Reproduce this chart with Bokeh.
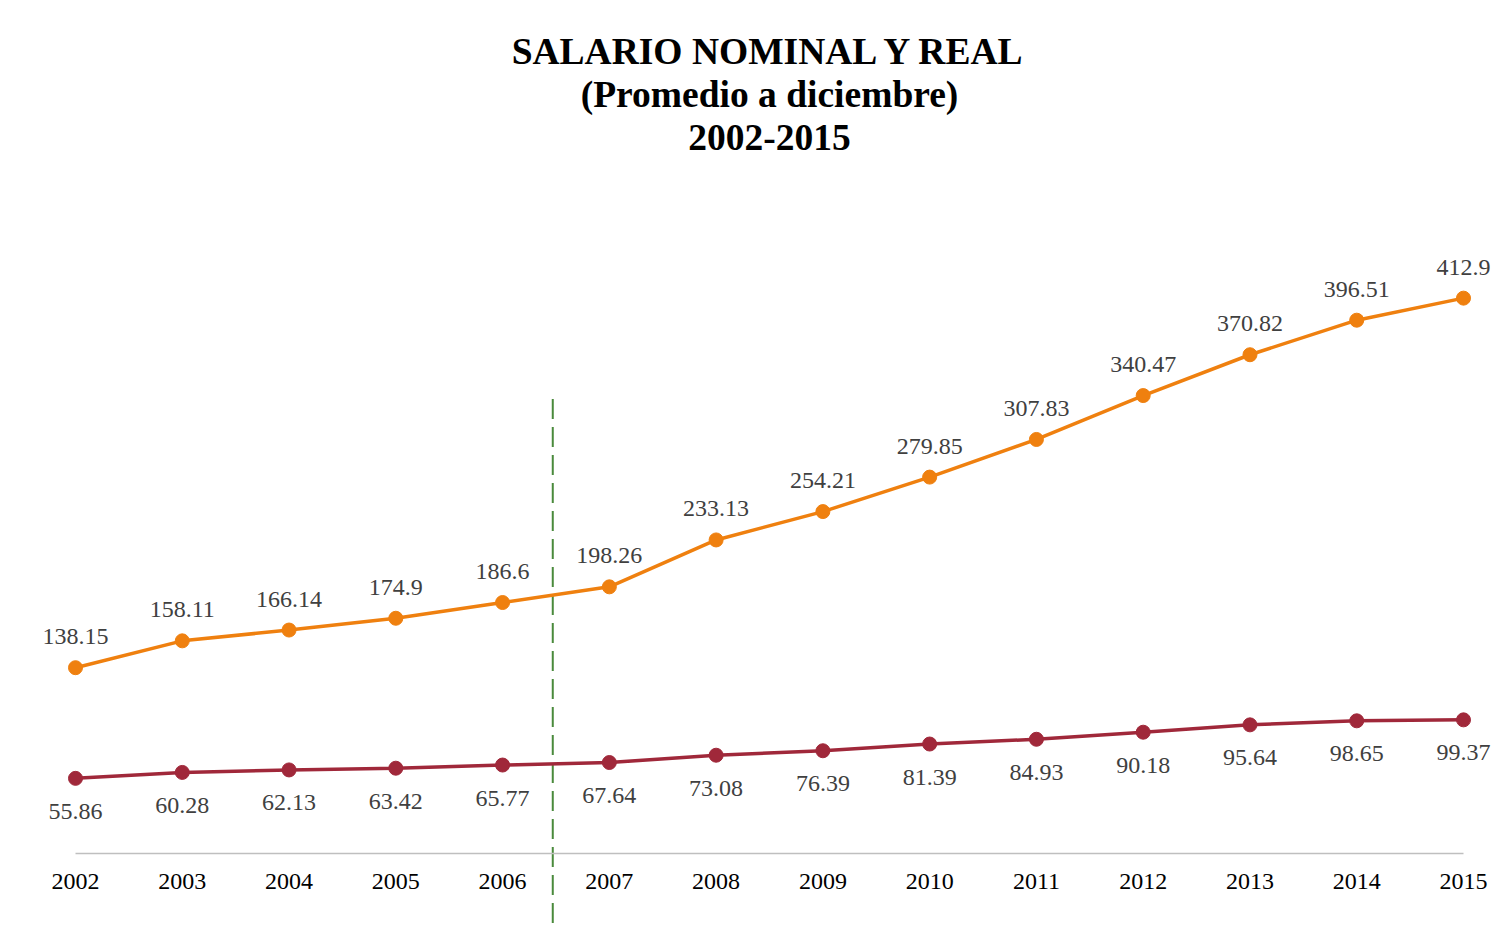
from bokeh.plotting import figure
from bokeh.models import Label, FixedTicker, Range1d, LinearAxis
from bokeh.embed import file_html
from bokeh.resources import INLINE
from bokeh.core.properties import value

# ---- data ----
years = [2002, 2003, 2004, 2005, 2006, 2007, 2008, 2009, 2010, 2011, 2012, 2013, 2014, 2015]
nominal = [138.15, 158.11, 166.14, 174.9, 186.6, 198.26, 233.13, 254.21, 279.85,
           307.83, 340.47, 370.82, 396.51, 412.9]
real = [55.86, 60.28, 62.13, 63.42, 65.77, 67.64, 73.08, 76.39, 81.39,
        84.93, 90.18, 95.64, 98.65, 99.37]
year_labels = [str(y) for y in years]
title_lines = ["SALARIO NOMINAL Y REAL", "(Promedio a diciembre)", "2002-2015"]
divider_year = 2006.47
divider_top = 338.0

# ---- layout constants ----
W, H = 1505, 925
PX_PER_YEAR = 106.77
PX_PER_UNIT = 1.345
ZERO_Y = 853.0   # canvas px (from top) of value 0
LEFT = 75.0      # canvas px of first year

x0 = years[0] - LEFT / PX_PER_YEAR
x1 = x0 + W / PX_PER_YEAR
y1 = ZERO_Y / PX_PER_UNIT
y0 = -(H - ZERO_Y) / PX_PER_UNIT

def ydata(canvas_px):
    return (ZERO_Y - canvas_px) / PX_PER_UNIT

FONT = value("Liberation Serif")
ORANGE = "#EF800F"
RED = "#A0283A"
GREEN = "#4A8A3C"

p = figure(width=W, height=H, x_range=Range1d(x0, x1), y_range=Range1d(y0, y1),
           output_backend="svg", toolbar_location=None, min_border=0,
           x_axis_location=None, y_axis_location=None)
p.grid.visible = False
p.outline_line_color = None
p.background_fill_color = "white"
p.border_fill_color = "white"

# x axis at value 0
ax = LinearAxis(fixed_location=0, bounds=(years[0], years[-1]))
ax.ticker = FixedTicker(ticks=years)
ax.major_label_overrides = {y: s for y, s in zip(years, year_labels)}
ax.axis_line_color = "#BFBFBF"
ax.axis_line_width = 1.5
ax.major_tick_line_color = None
ax.minor_tick_line_color = None
ax.major_tick_out = 0
ax.major_tick_in = 0
ax.major_label_standoff = 20
ax.major_label_text_font = "Liberation Serif"
ax.major_label_text_font_size = "24px"
ax.major_label_text_color = "#000000"
p.add_layout(ax, "below")

# divider dashed line
p.segment(x0=[divider_year], y0=[divider_top], x1=[divider_year], y1=[y0],
          line_color=GREEN, line_width=2, line_dash="20 8")

# series
p.line(years, nominal, line_color=ORANGE, line_width=3.5)
p.scatter(years, nominal, size=14, fill_color=ORANGE, line_color=ORANGE)
p.line(years, real, line_color=RED, line_width=3.5)
p.scatter(years, real, size=14, fill_color=RED, line_color=RED)

# data labels
p.text(years, nominal, text=[str(v) for v in nominal], text_font=FONT,
       text_font_size="24px", text_color="#404040", text_align="center",
       text_baseline="alphabetic", y_offset=-31)
p.text(years, real, text=[str(v) for v in real], text_font=FONT,
       text_font_size="24px", text_color="#404040", text_align="center",
       text_baseline="alphabetic", y_offset=33)

# title
mid = (years[0] + years[-1]) / 2
for line, base in zip(title_lines, [51.0, 94.0, 136.5]):
    p.add_layout(Label(x=mid, y=ydata(base), text=line, text_font="Liberation Serif",
                       text_font_size="37.5px", text_font_style="bold", text_color="#000000",
                       text_align="center", text_baseline="alphabetic"))

open("out.html", "w").write(file_html(p, INLINE))
